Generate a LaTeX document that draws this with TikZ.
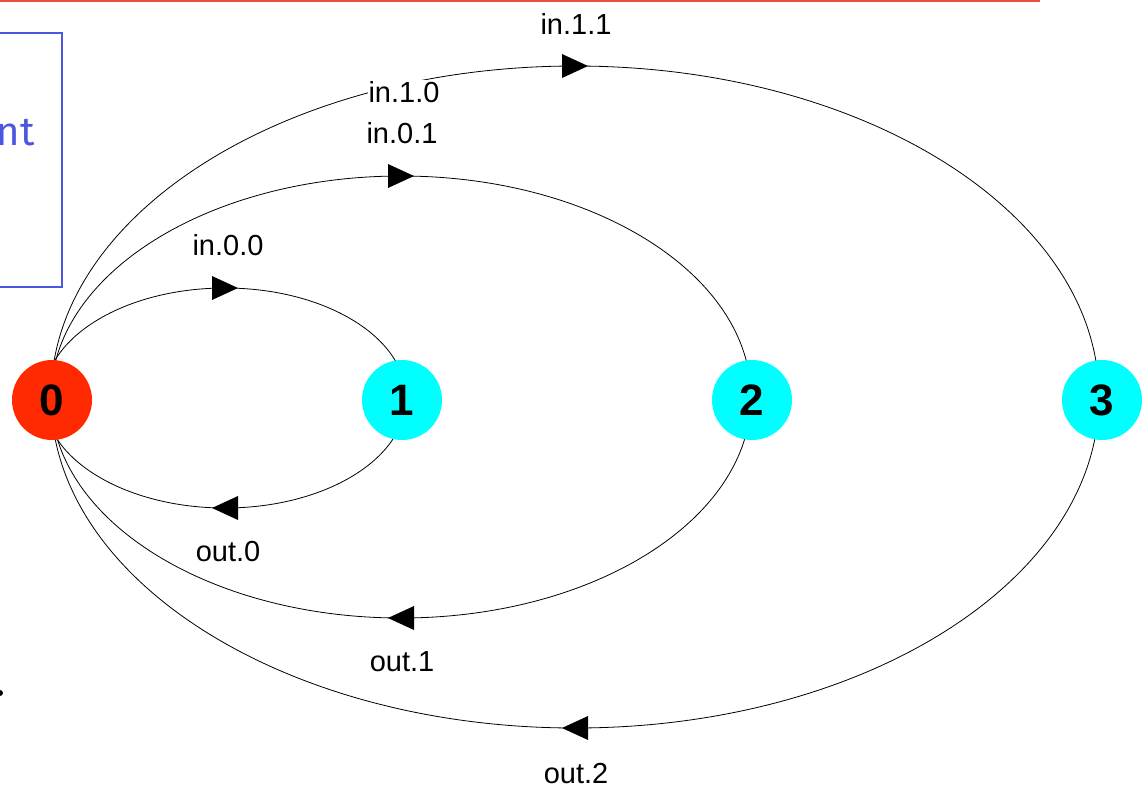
\documentclass[tikz,border=0pt]{standalone}
\usepackage{fontspec}
\setmainfont{Liberation Sans}
\newfontfamily\boxfont{Fira Sans}
\definecolor{nodered}{HTML}{FF2A00}
\definecolor{nodecyan}{HTML}{00FFFF}
\definecolor{topline}{HTML}{E5533D}
\definecolor{boxblue}{HTML}{4B57E0}
\tikzset{
  proc/.style={circle, minimum size=80pt, inner sep=0pt, font=\fontsize{44}{44}\selectfont\bfseries},
  lbl/.style={font=\fontsize{29}{32}\selectfont, inner sep=1pt},
  loop/.style={draw=black, line width=0.8pt},
  tip/.style={fill=black}
}
\begin{document}
\begin{tikzpicture}[x=1pt, y=-1pt]
\useasboundingbox (0,0) rectangle (1148,788);
% top rule and partial box
\draw[topline, line width=2pt] (0,1) -- (1040,1);
\draw[boxblue, line width=2.5pt] (-10,33) -- (62,33) -- (62,287) -- (-10,287);
\node[anchor=east, text=boxblue, font=\boxfont\fontsize{40}{40}\selectfont, inner sep=0pt] (boxtext) at (35,133) {nt};
\fill (0,693) circle (3pt);
% loop centres
\coordinate (c1) at (225,398);
\coordinate (c2) at (401,397);
\coordinate (c3) at (575,397);
\draw[loop] (c1) ellipse [x radius=181pt, y radius=110pt];
\draw[loop] (c2) ellipse [x radius=350pt, y radius=221pt];
\draw[loop] (c3) ellipse [x radius=524pt, y radius=331pt];
% arrow heads
\fill[tip] (212,276) -- (238,288) -- (212,300) -- cycle;
\fill[tip] (388,164) -- (414,176) -- (388,188) -- cycle;
\fill[tip] (562,54) -- (588,66) -- (562,78) -- cycle;
\fill[tip] (238,496) -- (212,508) -- (238,520) -- cycle;
\fill[tip] (414,606) -- (388,618) -- (414,630) -- cycle;
\fill[tip] (588,716) -- (562,728) -- (588,740) -- cycle;
% labels
\node[lbl] (l00) at (228,245) {in.0.0};
\node[lbl] (l01) at (402,133) {in.0.1};
\node[lbl, fill=white] (l10) at (404,92) {in.1.0};
\node[lbl] (l11) at (576,24) {in.1.1};
\node[lbl] (o0) at (228,552) {out.0};
\node[lbl] (o1) at (402,662) {out.1};
\node[lbl] (o2) at (576,774) {out.2};
% processes
\node[proc, fill=nodered] (n0) at (52,400) {0};
\node[proc, fill=nodecyan] (n1) at (402,400) {1};
\node[proc, fill=nodecyan] (n2) at (752,400) {2};
\node[proc, fill=nodecyan] (n3) at (1102,400) {3};
\end{tikzpicture}
\end{document}
